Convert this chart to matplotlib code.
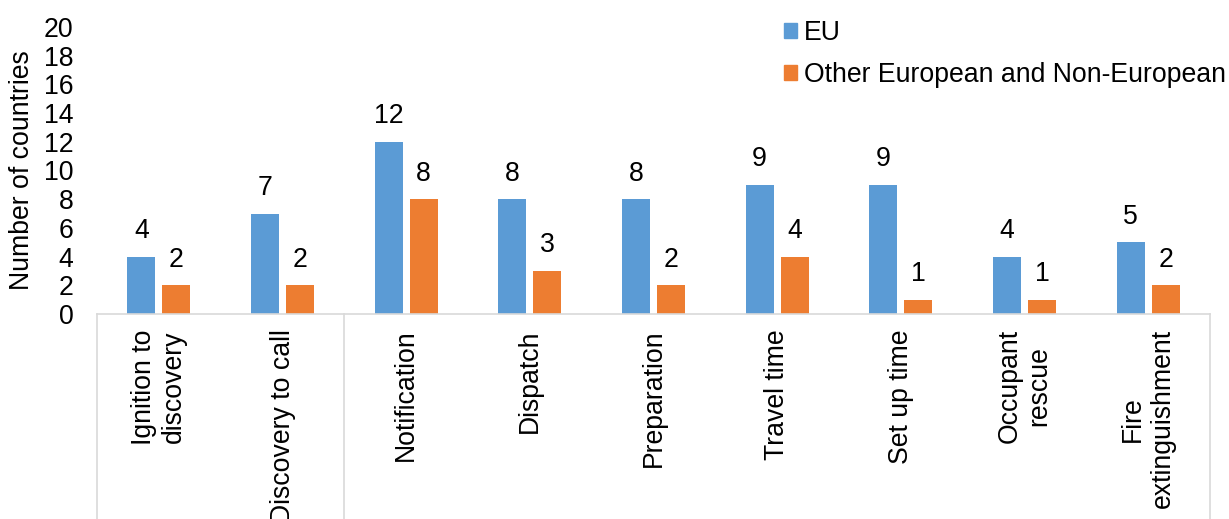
import numpy as np
import matplotlib.pyplot as plt
from matplotlib.patches import Patch

plt.rcParams['font.family'] = ['Liberation Sans', 'DejaVu Sans']

# Etapas de la respuesta y número de países que las registran
etapas = ["Ignition to\ndiscovery", "Discovery to call", "Notification", "Dispatch",
          "Preparation", "Travel time", "Set up time", "Occupant\nrescue",
          "Fire\nextinguishment"]
eu = [4, 7, 12, 8, 8, 9, 9, 4, 5]
otros = [2, 2, 8, 3, 2, 4, 1, 1, 2]
series = ["EU", "Other European and Non-European"]

azul = "#5B9BD5"
naranja = "#ED7D31"
gris = "#D9D9D9"
fs = 19.2

fig = plt.figure(figsize=(12.29, 5.19), dpi=100)
ax = fig.add_axes([97 / 1229, 1 - 314 / 519, (1210 - 97) / 1229, (314 - 27) / 519])

x = np.arange(len(etapas))
ancho = 0.226
desp = 0.142

b1 = ax.bar(x - desp, eu, ancho, color=azul)
b2 = ax.bar(x + desp, otros, ancho, color=naranja)

# Etiquetas de valor sobre cada barra
for barras, vals in [(b1, eu), (b2, otros)]:
    for b, v in zip(barras, vals):
        ax.annotate(str(v), (b.get_x() + b.get_width() / 2, v), xytext=(0, 9),
                    textcoords="offset points", ha="center", va="bottom", fontsize=fs)

ax.set_xlim(-0.5, len(etapas) - 0.5)
ax.set_ylim(0, 20)
ax.set_yticks(range(0, 21, 2))
ax.tick_params(axis="y", length=0, pad=17, labelsize=fs)
ax.set_ylabel("Number of countries", fontsize=fs, labelpad=6)

ax.set_xticks(x)
ax.set_xticklabels(etapas, rotation=90, va="top", ha="center", multialignment="center",
                   fontsize=fs)
ax.tick_params(axis="x", length=0, pad=11)

for lado in ["left", "right", "top"]:
    ax.spines[lado].set_visible(False)
ax.spines["bottom"].set_color(gris)
ax.spines["bottom"].set_linewidth(1.2)

# Separadores del eje de categorías
for xs in [-0.5, 1.5, len(etapas) - 0.5]:
    ax.plot([xs, xs], [0, -15], color=gris, lw=1.2, clip_on=False)

handles = [Patch(color=azul), Patch(color=naranja)]
fig.legend(handles, series, loc="upper left", bbox_to_anchor=(784 / 1229, 1 - 20 / 519),
           frameon=False, fontsize=fs, handlelength=0.5, handleheight=0.5,
           handletextpad=0.25, labelspacing=0.6, borderpad=0, borderaxespad=0)

fig.savefig("out.png", dpi=100)
